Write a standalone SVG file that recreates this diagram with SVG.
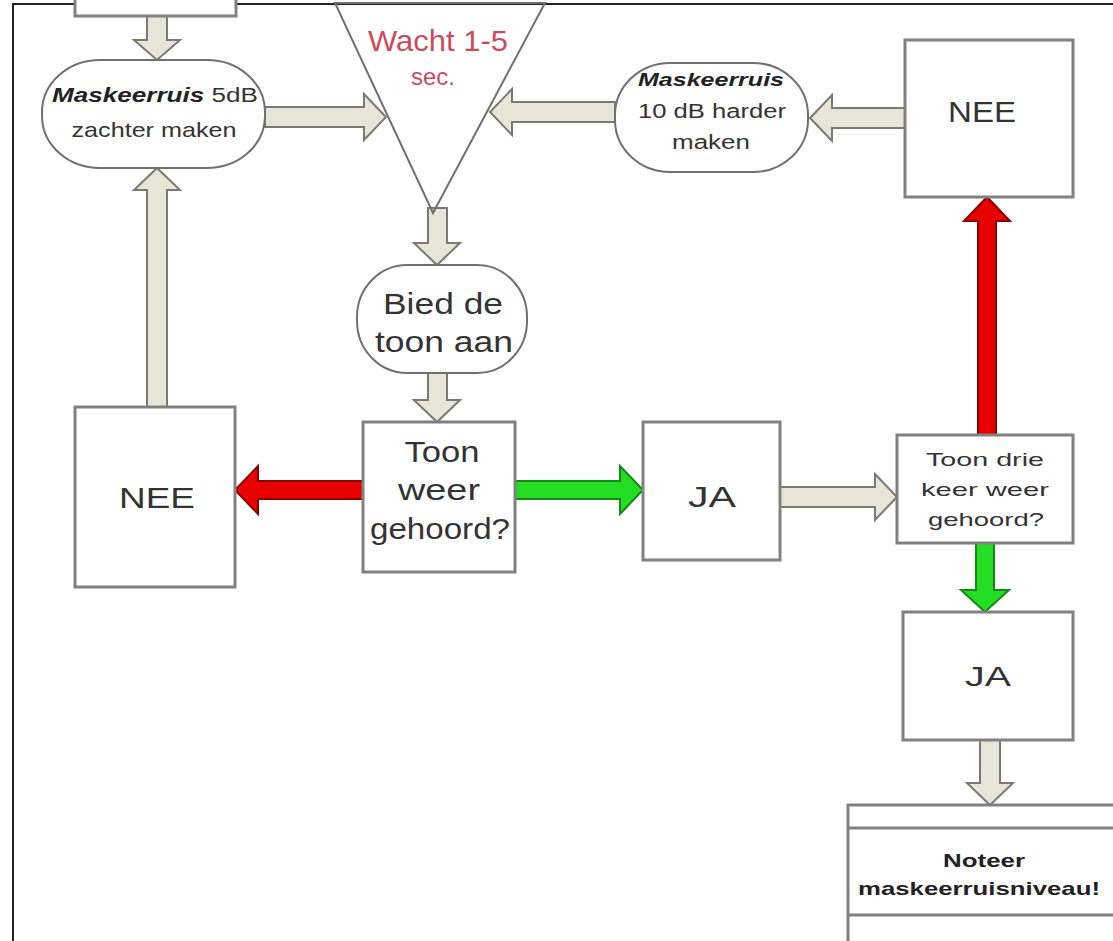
<svg xmlns="http://www.w3.org/2000/svg" width="1113" height="941" viewBox="0 0 1113 941">
<style>
.box{fill:#fff;stroke:#808080;stroke-width:3}
.oval{fill:#fff;stroke:#707070;stroke-width:2}
.t{font-family:"Liberation Sans",Arial,sans-serif;fill:#333;text-anchor:middle}
.ga{fill:#e6e6d8;stroke:#7a7a72;stroke-width:2;stroke-linejoin:miter}
.ra{fill:#e80000;stroke:#8a0000;stroke-width:2}
.gr{fill:#22dd22;stroke:#168a16;stroke-width:2}
</style>
<rect x="0" y="0" width="1113" height="941" fill="#fff"/>
<path d="M13,941 V4 H1113" fill="none" stroke="#222" stroke-width="2"/>

<g id="connectors">
<polygon class="ga" points="147,16 167,16 167,40 180,40 157,60 134,40 147,40"/>
<polygon class="ga" points="147,407 167,407 167,190 180,190 157,168 134,190 147,190"/>
<polygon class="ga" points="265,107 364,107 364,94 386,117 364,140 364,127 265,127"/>
<polygon class="ga" points="615,102 512,102 512,89 490,112 512,135 512,122 615,122"/>
<polygon class="ga" points="905,108 832,108 832,95 810,118 832,141 832,128 905,128"/>
<polygon class="ga" points="428,208 447,208 447,243 460,243 437,265 414,243 428,243"/>
<polygon class="ga" points="428,373 447,373 447,400 460,400 437,422 414,400 428,400"/>
<polygon class="ra" points="363,481 258,481 258,466 235,490 258,514 258,499 363,499"/>
<polygon class="gr" points="515,481 620,481 620,466 643,490 620,514 620,499 515,499"/>
<polygon class="ga" points="780,487 875,487 875,474 897,497 875,520 875,507 780,507"/>
<polygon class="ra" points="978,435 996,435 996,221 1010,221 987,197 964,221 978,221"/>
<polygon class="gr" points="976,543 994,543 994,590 1009,590 985,612 961,590 976,590"/>
<polygon class="ga" points="980,740 1000,740 1000,783 1013,783 990,805 967,783 980,783"/>
</g>

<g id="top-box">
<rect class="box" x="75" y="-20" width="161" height="36"/>
</g>

<g id="wacht">
<polygon points="335,3 545,3 433,213" fill="none" stroke="#707070" stroke-width="2"/>
<text class="t" x="438" y="51" font-size="29" textLength="140" lengthAdjust="spacingAndGlyphs" style="fill:#cf4a5a">Wacht 1-5</text>
<text class="t" x="433" y="85" font-size="23" textLength="44" lengthAdjust="spacingAndGlyphs" style="fill:#cf4a5a">sec.</text>
</g>

<g id="zachter">
<rect class="oval" x="42" y="60" width="223" height="108" rx="58" ry="52"/>
<text class="t" x="155" y="102" font-size="20" textLength="206" lengthAdjust="spacingAndGlyphs"><tspan font-weight="bold" font-style="italic" style="fill:#222">Maskeerruis</tspan> 5dB</text>
<text class="t" x="154" y="137" font-size="21" textLength="165" lengthAdjust="spacingAndGlyphs">zachter maken</text>
</g>

<g id="harder">
<rect class="oval" x="615" y="63" width="193" height="109" rx="55" ry="52"/>
<text class="t" x="711" y="86" font-size="19" font-weight="bold" font-style="italic" textLength="146" lengthAdjust="spacingAndGlyphs" style="fill:#222">Maskeerruis</text>
<text class="t" x="712" y="118" font-size="20" textLength="148" lengthAdjust="spacingAndGlyphs">10 dB harder</text>
<text class="t" x="711" y="149" font-size="20" textLength="78" lengthAdjust="spacingAndGlyphs">maken</text>
</g>

<g id="nee-right">
<rect class="box" x="905" y="40" width="168" height="157"/>
<text class="t" x="982" y="122" font-size="29" textLength="68" lengthAdjust="spacingAndGlyphs">NEE</text>
</g>

<g id="bied">
<rect class="oval" x="357" y="265" width="170" height="108" rx="50" ry="52"/>
<text class="t" x="443" y="314" font-size="30" textLength="120" lengthAdjust="spacingAndGlyphs">Bied de</text>
<text class="t" x="444" y="352" font-size="30" textLength="138" lengthAdjust="spacingAndGlyphs">toon aan</text>
</g>

<g id="nee-left">
<rect class="box" x="75" y="407" width="160" height="180"/>
<text class="t" x="157" y="508" font-size="29" textLength="76" lengthAdjust="spacingAndGlyphs">NEE</text>
</g>

<g id="toon-weer">
<rect class="box" x="363" y="422" width="152" height="150"/>
<text class="t" x="442" y="462" font-size="30" textLength="75" lengthAdjust="spacingAndGlyphs">Toon</text>
<text class="t" x="439" y="500" font-size="30" textLength="82" lengthAdjust="spacingAndGlyphs">weer</text>
<text class="t" x="440" y="539" font-size="30" textLength="140" lengthAdjust="spacingAndGlyphs">gehoord?</text>
</g>

<g id="ja-mid">
<rect class="box" x="643" y="422" width="137" height="138"/>
<text class="t" x="712" y="507" font-size="29" textLength="48" lengthAdjust="spacingAndGlyphs">JA</text>
</g>

<g id="toon-drie">
<rect class="box" x="897" y="435" width="176" height="108"/>
<text class="t" x="985" y="466" font-size="19" textLength="118" lengthAdjust="spacingAndGlyphs">Toon drie</text>
<text class="t" x="985" y="496" font-size="19" textLength="128" lengthAdjust="spacingAndGlyphs">keer weer</text>
<text class="t" x="986" y="526" font-size="19" textLength="116" lengthAdjust="spacingAndGlyphs">gehoord?</text>
</g>

<g id="ja-bottom">
<rect class="box" x="903" y="612" width="170" height="128"/>
<text class="t" x="988" y="686" font-size="28" textLength="46" lengthAdjust="spacingAndGlyphs">JA</text>
</g>

<g id="noteer">
<rect class="box" x="848" y="805" width="280" height="150"/>
<line x1="848" y1="828" x2="1113" y2="828" stroke="#808080" stroke-width="3"/>
<line x1="848" y1="915" x2="1113" y2="915" stroke="#808080" stroke-width="3"/>
<text class="t" x="984" y="867" font-size="19" font-weight="bold" textLength="82" lengthAdjust="spacingAndGlyphs" style="fill:#222">Noteer</text>
<text class="t" x="979" y="895" font-size="19" font-weight="bold" textLength="242" lengthAdjust="spacingAndGlyphs" style="fill:#222">maskeerruisniveau!</text>
</g>
</svg>
